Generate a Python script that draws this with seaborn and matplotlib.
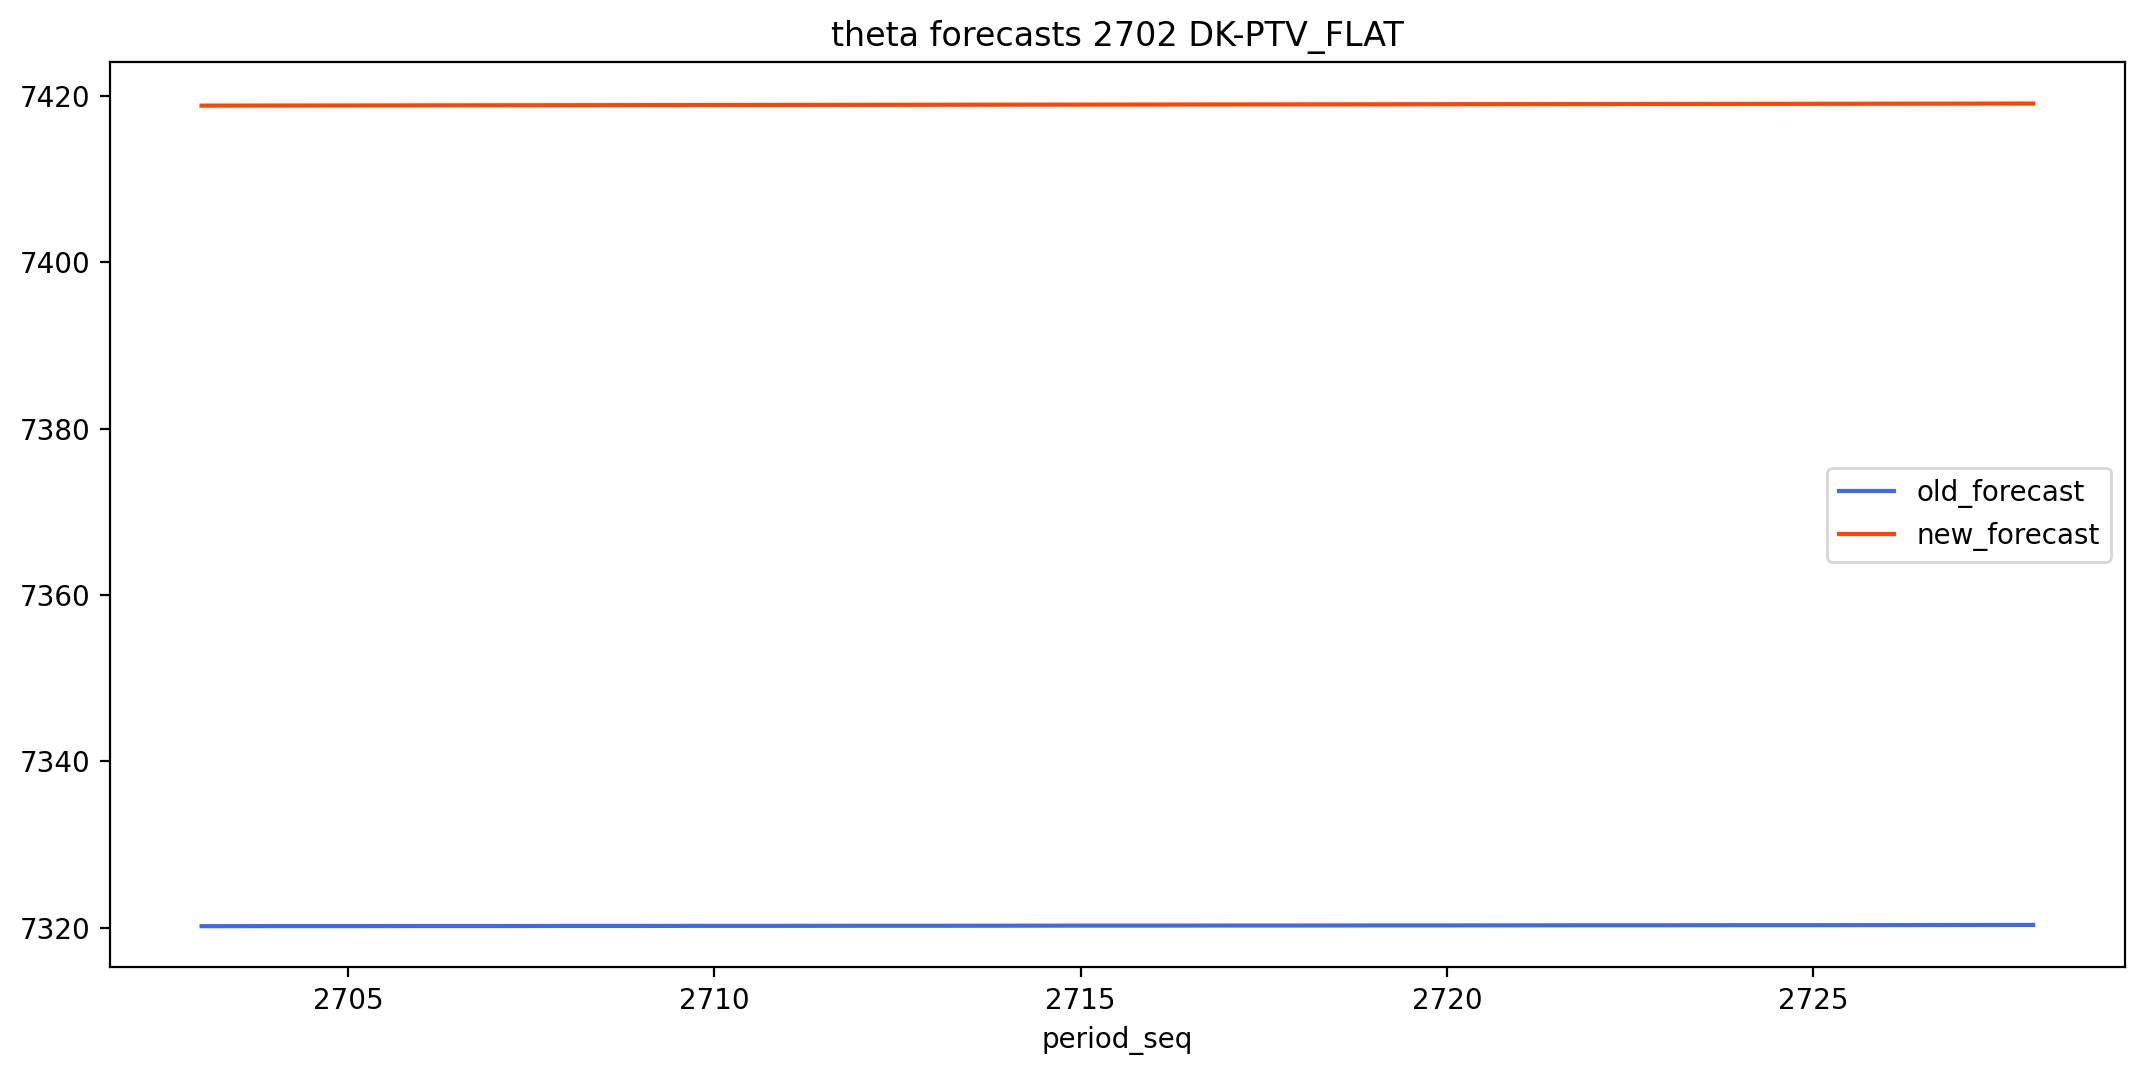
import matplotlib
matplotlib.use("Agg")
import matplotlib.pyplot as plt
import seaborn as sns
import pandas as pd

period_seq = list(range(2703, 2729))
old_forecast = [7320.20, 7320.21, 7320.21, 7320.22, 7320.22, 7320.23, 7320.23, 7320.24,
                7320.24, 7320.25, 7320.25, 7320.26, 7320.27, 7320.27, 7320.28, 7320.28,
                7320.29, 7320.29, 7320.30, 7320.31, 7320.31, 7320.32, 7320.32, 7320.33,
                7320.34, 7320.35]
new_forecast = [7418.80, 7418.81, 7418.82, 7418.83, 7418.84, 7418.85, 7418.86, 7418.87,
                7418.88, 7418.89, 7418.90, 7418.91, 7418.92, 7418.93, 7418.94, 7418.95,
                7418.96, 7418.97, 7418.98, 7418.99, 7419.00, 7419.01, 7419.02, 7419.03,
                7419.04, 7419.05]
series_names = ["old_forecast", "new_forecast"]
colors = ["royalblue", "orangered"]

df = pd.concat([
    pd.DataFrame({"period_seq": period_seq, "value": old_forecast, "series": series_names[0]}),
    pd.DataFrame({"period_seq": period_seq, "value": new_forecast, "series": series_names[1]}),
])

fig, ax = plt.subplots(figsize=(10.72, 5.38), dpi=200)
fig.subplots_adjust(left=0.0513, right=0.991, top=0.942, bottom=0.101)
sns.lineplot(data=df, x="period_seq", y="value", hue="series",
             palette=dict(zip(series_names, colors)), ax=ax)
ax.set_title("theta forecasts 2702 DK-PTV_FLAT")
ax.set_xlabel("period_seq")
ax.set_ylabel("")
ax.legend(loc="center right")
fig.savefig("out.png", dpi=200)
